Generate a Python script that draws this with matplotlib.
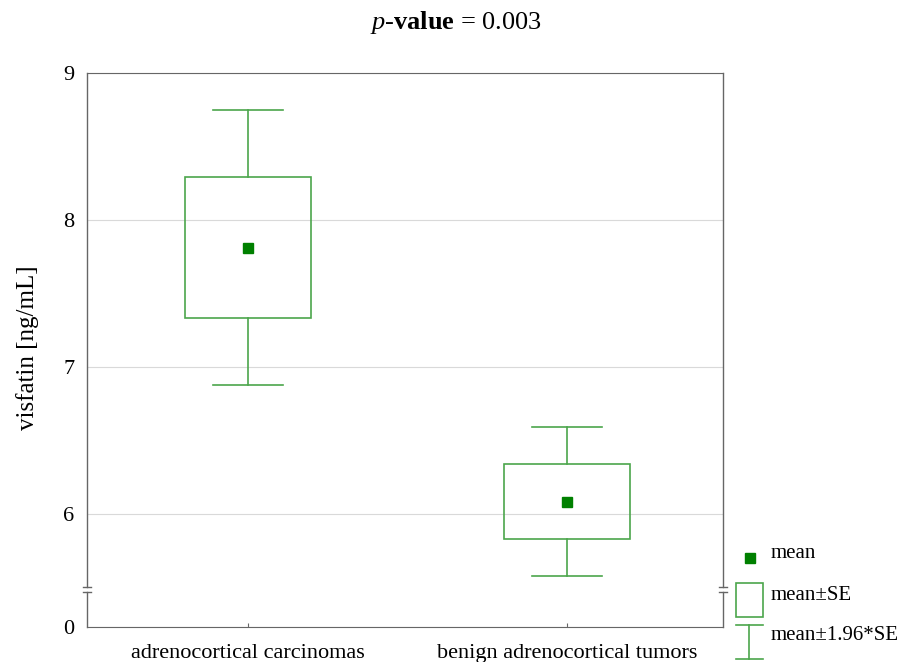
import matplotlib
matplotlib.use("Agg")
import matplotlib.pyplot as plt
from matplotlib.patches import Rectangle
from matplotlib.lines import Line2D

# 数据：均值、均值±SE、均值±1.96*SE
groups = ["adrenocortical carcinomas", "benign adrenocortical tumors"]
means = [7.81, 6.08]
se_low = [7.33, 5.83]
se_high = [8.29, 6.34]
ci_low = [6.88, 5.58]
ci_high = [8.75, 6.59]
y_ticks = [6, 7, 8, 9]
y_bottom = 5.23   # 坐标轴截断后的底部，标为 0

plt.rcParams['font.family'] = ['Liberation Serif', 'DejaVu Serif']
plt.rcParams['mathtext.fontset'] = 'custom'
plt.rcParams['mathtext.rm'] = 'Liberation Serif'
plt.rcParams['mathtext.it'] = 'Liberation Serif:italic'
plt.rcParams['mathtext.bf'] = 'Liberation Serif:bold'

line_c = '#4ca64c'
mark_c = '#008000'
spine_c = '#666666'

fig = plt.figure(figsize=(9.03, 6.62), dpi=100)
ax = fig.add_axes([87 / 903, 1 - 627 / 662, 636 / 903, 554 / 662])

box_w = 0.395
cap_w = 0.22
for i in range(len(groups)):
    # 须线
    ax.plot([i, i], [ci_low[i], se_low[i]], color=line_c, lw=1.2)
    ax.plot([i, i], [se_high[i], ci_high[i]], color=line_c, lw=1.2)
    ax.plot([i - cap_w / 2, i + cap_w / 2], [ci_low[i], ci_low[i]], color=line_c, lw=1.2)
    ax.plot([i - cap_w / 2, i + cap_w / 2], [ci_high[i], ci_high[i]], color=line_c, lw=1.2)
    # 均值±SE 方框
    ax.add_patch(Rectangle((i - box_w / 2, se_low[i]), box_w, se_high[i] - se_low[i],
                           fill=False, edgecolor=line_c, lw=1.2, zorder=3))
    ax.plot(i, means[i], 's', color=mark_c, ms=7, zorder=4)

ax.set_xlim(-0.505, 1.49)
ax.set_ylim(y_bottom, 9)
ax.set_xticks(range(len(groups)))
ax.set_xticklabels(groups, fontsize=16)
ax.set_yticks([y_bottom] + y_ticks)
ax.set_yticklabels(['0'] + [str(t) for t in y_ticks], fontsize=16)
ax.tick_params(axis='y', length=0, pad=9)
ax.tick_params(axis='x', direction='in', length=3, color=spine_c, pad=12)
ax.yaxis.grid(True, color='#d9d9d9', lw=0.8)
ax.set_axisbelow(True)

for s in ['top', 'bottom']:
    ax.spines[s].set_color(spine_c)
ax.spines['left'].set_visible(False)
ax.spines['right'].set_visible(False)

# 带截断标记的左右坐标轴
b_lo, b_hi = 0.0626, 0.0727
for x in [0, 1]:
    ax.plot([x, x], [0, b_lo], transform=ax.transAxes, color=spine_c, lw=1, clip_on=False)
    ax.plot([x, x], [b_hi, 1], transform=ax.transAxes, color=spine_c, lw=1, clip_on=False)
    for yb in [b_lo, b_hi]:
        ax.plot([x - 0.007, x + 0.007], [yb, yb], transform=ax.transAxes,
                color=spine_c, lw=1, clip_on=False)

fig.text(0.505, 1 - 22 / 662, r"$\mathit{p}$-$\mathbf{value}$ = 0.003", ha='center', va='center', fontsize=19)
fig.text(28 / 903, 1 - 348 / 662, "visfatin [ng/mL]", rotation=90, ha='center', va='center', fontsize=18)

# 图例（画在坐标轴右侧）
W, H = 903, 662
fig.add_artist(Line2D([750 / W], [1 - 558 / H], marker='s', color=mark_c, ms=7, ls='none'))
fig.add_artist(Rectangle((736 / W, 1 - 617 / H), 27 / W, 34 / H, fill=False,
                         edgecolor=line_c, lw=1.2, transform=fig.transFigure))
fig.add_artist(Line2D([736 / W, 763 / W], [1 - 625 / H] * 2, color=line_c, lw=1.2))
fig.add_artist(Line2D([736 / W, 763 / W], [1 - 659 / H] * 2, color=line_c, lw=1.2))
fig.add_artist(Line2D([749.5 / W] * 2, [1 - 625 / H, 1 - 659 / H], color=line_c, lw=1.2))
for txt, yy in [("mean", 553), ("mean±SE", 596), ("mean±1.96*SE", 636)]:
    fig.text(771 / W, 1 - yy / H, txt, ha='left', va='center', fontsize=15)

fig.savefig("out.png", dpi=100)
